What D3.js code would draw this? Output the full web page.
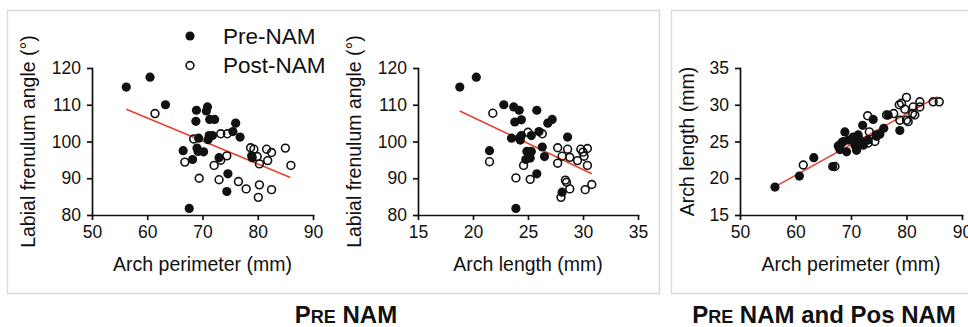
<!DOCTYPE html>
<html>
<head>
<meta charset="utf-8">
<script src="https://cdn.jsdelivr.net/npm/d3@7"></script>
<style>
  body { margin: 0; background: #fff; }
  svg { font-family: "Liberation Sans", Arial, sans-serif; display: block; }
  .axis path, .axis line { stroke: #111; stroke-width: 1.7; }
  .axis text { font-size: 17.5px; fill: #111; }
</style>
</head>
<body>
<script>
// Panel 1: arch perimeter (mm) vs labial frenulum angle (deg)
const prePerimAngle = [
  [56.2,114.8],[60.5,117.5],[63.3,110],[68.9,108.5],[70.9,109.4],[70.7,108.3],
  [68.8,105.5],[71.3,106],[72.2,106],[76.0,105],[75.5,102.7],[76.8,101.2],
  [71.0,100.5],[71.2,101.6],[71.8,101.6],[69.3,100.9],[66.5,97.5],[69.0,98.2],
  [69.2,97.3],[70.2,97.2],[68.2,95.1],[73.0,95.6],[74.6,91.2],[74.4,86.4],
  [67.6,81.8],[78.9,96.1],[79.0,95.6]
];
const postPerimAngle = [
  [61.4,107.6],[68.4,100.7],[73.3,102.1],[74.5,102.1],[66.8,94.4],[72.1,93.5],
  [74.4,96.1],[69.4,90],[73.0,89.6],[76.5,89.1],[77.9,87.1],[80.3,88.2],
  [80.1,84.8],[82.5,86.9],[78.7,98.3],[79.3,97.9],[79.9,95.9],[80.3,93.9],
  [81.6,97.9],[82.5,97],[81.8,94.8],[85.0,98.2],[86.0,93.5],[73.3,94.9]
];
// Panel 2: arch length (mm) vs labial frenulum angle (deg)
const preLengthAngle = [
  [18.8,114.8],[20.3,117.5],[22.8,110],[23.7,109.4],[24.2,108.5],[25.8,108.5],
  [23.8,105.3],[24.4,105.9],[26.8,105],[27.2,106],[26.0,102.7],[25.3,101.6],
  [23.5,100.9],[24.2,100.9],[24.4,101.6],[28.6,101.2],[26.3,98.5],[24.9,97.3],
  [25.3,97.3],[26.5,95.9],[24.8,95.1],[25.2,95.5],[21.5,97.5],[25.8,91.2],
  [28.1,86.2],[23.9,81.8],[24.3,100.4]
];
const postLengthAngle = [
  [21.8,107.7],[21.5,94.5],[25.0,102.5],[26.3,102.1],[24.6,93.5],[23.9,90.1],
  [25.2,89.7],[27.7,98.3],[28.6,97.9],[28.1,96],[28.8,95.7],[27.7,94.1],
  [29.5,94.8],[29.8,97.9],[30.0,97.1],[30.4,98.1],[30.1,96],[30.4,93.5],
  [28.4,89.5],[28.5,88.9],[28.8,87.1],[28.0,84.8],[30.2,86.9],[30.8,88.3]
];
// Panel 3: arch perimeter (mm) vs arch length (mm)
const prePerimLength = [
  [56.3,18.8],[60.7,20.3],[63.3,22.8],[66.7,21.6],[68.0,23.9],[68.9,26.3],
  [68.3,24.8],[69.2,23.6],[70.4,25.6],[70.7,24.5],[71.0,23.8],[72.1,27.2],
  [71.6,25.2],[73.1,25.2],[74.0,28.0],[74.6,25.7],[75.2,26.0],[75.9,26.8],
  [76.7,28.6],[78.8,26.5],[69.5,25.2],[68.6,25.0],[71.3,25.9],[72.2,24.5],
  [67.7,24.4]
];
const postPerimLength = [
  [61.4,21.8],[67.1,21.6],[73.0,28.5],[73.3,26.3],[74.3,25.0],[73.1,24.8],
  [76.4,28.6],[77.7,28.8],[80.0,31.0],[79.1,30.2],[78.7,30.0],[79.7,29.4],
  [78.8,27.9],[80.0,27.9],[80.3,27.7],[81.1,28.8],[81.5,28.6],[81.2,29.7],
  [82.4,30.4],[82.4,29.7],[84.8,30.4],[85.9,30.4],[74.6,25.9]
];
// fitted regression lines, [x, y] at each end
const fitPerimAngle = [[56.2,108.8],[85.9,90.2]];
const fitLengthAngle = [[18.8,108.3],[30.8,91.2]];
const fitPerimLength = [[56.4,18.9],[85.6,31.1]];

const xTicksPerim = [50,60,70,80,90];
const xTicksLength = [15,20,25,30,35];
const yTicksAngle = [80,90,100,110,120];
const yTicksLength = [15,20,25,30,35];

const legendLabels = ["Pre-NAM","Post-NAM"];

const width = 968, height = 327;
const svg = d3.select("body").append("svg")
  .attr("width", width).attr("height", height);

// frames
svg.append("rect").attr("x", 7.5).attr("y", 10.5).attr("width", 652).attr("height", 283)
  .attr("fill", "#fff").attr("stroke", "#dadada").attr("stroke-width", 1.5);
svg.append("rect").attr("x", 671.5).attr("y", 10.5).attr("width", 320).attr("height", 283)
  .attr("fill", "#fff").attr("stroke", "#dadada").attr("stroke-width", 1.5);

const panels = [
  { x0: 92, x1: 313, xDom: [50,90], yDom: [80,120], xTicks: xTicksPerim, yTicks: yTicksAngle,
    pre: prePerimAngle, post: postPerimAngle, fit: fitPerimAngle,
    xTitle: "Arch perimeter (mm)", yTitle: "Labial frenulum angle (°)", yTitleOff: 57 },
  { x0: 418, x1: 638, xDom: [15,35], yDom: [80,120], xTicks: xTicksLength, yTicks: yTicksAngle,
    pre: preLengthAngle, post: postLengthAngle, fit: fitLengthAngle,
    xTitle: "Arch length (mm)", yTitle: "Labial frenulum angle (°)", yTitleOff: 57 },
  { x0: 740, x1: 962, xDom: [50,90], yDom: [15,35], xTicks: xTicksPerim, yTicks: yTicksLength,
    pre: prePerimLength, post: postPerimLength, fit: fitPerimLength,
    xTitle: "Arch perimeter (mm)", yTitle: "Arch length (mm)", yTitleOff: 46 }
];

const yTop = 68, yBot = 215;
const red = "#e8412f";

panels.forEach(p => {
  const x = d3.scaleLinear().domain(p.xDom).range([p.x0, p.x1]);
  const y = d3.scaleLinear().domain(p.yDom).range([yBot, yTop]);
  const g = svg.append("g");

  g.append("g").attr("class", "axis")
    .attr("transform", `translate(0,${yBot})`)
    .call(d3.axisBottom(x).tickValues(p.xTicks).tickSize(5).tickSizeOuter(0).tickPadding(6));
  g.append("g").attr("class", "axis")
    .attr("transform", `translate(${p.x0},0)`)
    .call(d3.axisLeft(y).tickValues(p.yTicks).tickSize(5).tickSizeOuter(0).tickPadding(6));
  g.selectAll(".axis .domain").attr("stroke-linecap", "square");

  g.append("text")
    .attr("x", (p.x0 + p.x1) / 2).attr("y", 271)
    .attr("text-anchor", "middle").attr("font-size", 19.5).attr("fill", "#111")
    .text(p.xTitle);
  g.append("text")
    .attr("transform", `translate(${p.x0 - p.yTitleOff},${(yTop + yBot) / 2}) rotate(-90)`)
    .attr("text-anchor", "middle").attr("font-size", 19.5).attr("fill", "#111")
    .text(p.yTitle);

  g.append("line")
    .attr("x1", x(p.fit[0][0])).attr("y1", y(p.fit[0][1]))
    .attr("x2", x(p.fit[1][0])).attr("y2", y(p.fit[1][1]))
    .attr("stroke", red).attr("stroke-width", 1.6);

  g.selectAll(".post").data(p.post).enter().append("circle")
    .attr("cx", d => x(d[0])).attr("cy", d => y(d[1])).attr("r", 3.9)
    .attr("fill", "none").attr("stroke", "#111").attr("stroke-width", 1.6);
  g.selectAll(".pre").data(p.pre).enter().append("circle")
    .attr("cx", d => x(d[0])).attr("cy", d => y(d[1])).attr("r", 4.6)
    .attr("fill", "#111");
});

// legend
const legend = svg.append("g").attr("transform", "translate(190,36)");
legendLabels.forEach((lab, i) => {
  const row = legend.append("g").attr("transform", `translate(0,${i * 29.5})`);
  row.append("circle").attr("r", i === 0 ? 4.6 : 3.9)
    .attr("fill", i === 0 ? "#111" : "none")
    .attr("stroke", i === 0 ? "none" : "#111").attr("stroke-width", 1.6);
  row.append("text").attr("x", 33).attr("y", 7.5)
    .attr("font-size", 22.5).attr("fill", "#111").text(lab);
});

// captions
function caption(cx, rest) {
  const t = svg.append("text").attr("x", cx).attr("y", 323)
    .attr("text-anchor", "middle").attr("font-size", 24).attr("font-weight", "bold")
    .attr("fill", "#111");
  t.append("tspan").text("P");
  t.append("tspan").attr("font-size", 18).text("RE");
  t.append("tspan").text(rest);
}
caption(346, " NAM");
caption(824, " NAM and Pos NAM");
</script>
</body>
</html>
